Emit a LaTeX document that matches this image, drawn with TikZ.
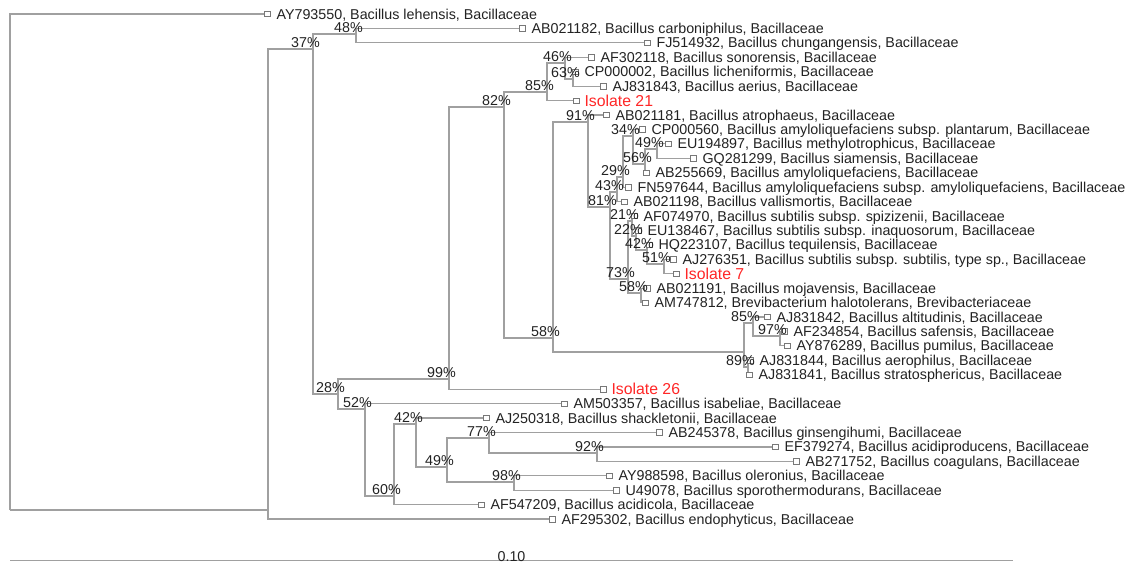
\documentclass[tikz,border=0pt]{standalone}
\usepackage{fontspec}
\setmainfont{Liberation Sans}
\usetikzlibrary{positioning}
\definecolor{treegray}{RGB}{160,160,160}
\definecolor{boxgray}{RGB}{120,120,120}
\definecolor{txtgray}{RGB}{34,34,34}
\definecolor{isored}{RGB}{255,38,38}
\tikzset{
  branch/.style={draw=treegray,line width=1.2pt},
  tip/.style={draw=boxgray,fill=white,line width=0.6pt,minimum size=5.5pt,inner sep=0pt},
  taxon/.style={font=\fontsize{14.3}{16}\selectfont,text=txtgray,inner sep=0pt,anchor=base west},
  isolate/.style={taxon,font=\fontsize{15.8}{18}\selectfont,text=isored},
  boot/.style={font=\fontsize{14.3}{16}\selectfont,text=txtgray,inner sep=0pt,anchor=base east},
}
\begin{document}
\begin{tikzpicture}[x=1pt,y=-1pt]
\useasboundingbox (0,0) rectangle (1131,562);
% inner nodes, placed where their own branch comes in
\foreach \n/\x/\y in {root/10/510, nA/268/510, n37/313/49, n48/356/34, n28/338/394,
    n99/449/379, n82/504/107, n85/547/92, n46/565/63, n63/573/79, n58/553/338,
    n91/588/122, n81/610/207, n43/617/192, n29/623/177, n34/633/136, n56/645/164,
    n49/657/149, n73/628/279, n21/632/221, n22/636/236, n42/647/250, n51/664/264,
    n58b/641/293, npum/744/352, n85b/753/323, n97/780/336, n89/748/367,
    n52/365/409, n60/394/496, n42b/416/424, n49b/447/467, n77/489/438,
    n92/597/453, n98/514/482}
  \coordinate (\n) at (\x,\y);
\foreach \p/\c in {root/nA, nA/n37, n37/n48, n37/n28, n28/n99, n28/n52, n99/n82,
    n82/n85, n82/n58, n85/n46, n46/n63, n58/n91, n58/npum, n91/n81, n81/n43,
    n81/n73, n43/n29, n29/n34, n34/n56, n56/n49, n73/n21, n73/n58b, n21/n22,
    n22/n42, n42/n51, npum/n85b, npum/n89, n85b/n97, n52/n60, n60/n42b,
    n42b/n49b, n49b/n77, n49b/n98, n77/n92}
  \draw[branch] (\p) |- (\c);
% tips
\foreach \i/\p/\x/\txt in {
    1/root/267/{AY793550, Bacillus lehensis, Bacillaceae},
    2/n48/522/{AB021182, Bacillus carboniphilus, Bacillaceae},
    3/n48/647/{FJ514932, Bacillus chungangensis, Bacillaceae},
    4/n46/591/{AF302118, Bacillus sonorensis, Bacillaceae},
    5/n63/575/{CP000002, Bacillus licheniformis, Bacillaceae},
    6/n63/603/{AJ831843, Bacillus aerius, Bacillaceae},
    8/n91/606/{AB021181, Bacillus atrophaeus, Bacillaceae},
    9/n34/642/{CP000560, Bacillus amyloliquefaciens subsp. plantarum, Bacillaceae},
    10/n49/668/{EU194897, Bacillus methylotrophicus, Bacillaceae},
    11/n49/693/{GQ281299, Bacillus siamensis, Bacillaceae},
    12/n56/646/{AB255669, Bacillus amyloliquefaciens, Bacillaceae},
    13/n29/628/{FN597644, Bacillus amyloliquefaciens subsp. amyloliquefaciens, Bacillaceae},
    14/n43/624/{AB021198, Bacillus vallismortis, Bacillaceae},
    15/n21/634/{AF074970, Bacillus subtilis subsp. spizizenii, Bacillaceae},
    16/n22/638/{EU138467, Bacillus subtilis subsp. inaquosorum, Bacillaceae},
    17/n42/649/{HQ223107, Bacillus tequilensis, Bacillaceae},
    18/n51/673/{AJ276351, Bacillus subtilis subsp. subtilis, type sp., Bacillaceae},
    20/n58b/647/{AB021191, Bacillus mojavensis, Bacillaceae},
    21/n58b/645/{AM747812, Brevibacterium halotolerans, Brevibacteriaceae},
    22/n85b/767/{AJ831842, Bacillus altitudinis, Bacillaceae},
    23/n97/784/{AF234854, Bacillus safensis, Bacillaceae},
    24/n97/787/{AY876289, Bacillus pumilus, Bacillaceae},
    25/n89/750/{AJ831844, Bacillus aerophilus, Bacillaceae},
    26/n89/749/{AJ831841, Bacillus stratosphericus, Bacillaceae},
    28/n52/564/{AM503357, Bacillus isabeliae, Bacillaceae},
    29/n42b/486/{AJ250318, Bacillus shackletonii, Bacillaceae},
    30/n77/659/{AB245378, Bacillus ginsengihumi, Bacillaceae},
    31/n92/775/{EF379274, Bacillus acidiproducens, Bacillaceae},
    32/n92/796/{AB271752, Bacillus coagulans, Bacillaceae},
    33/n98/609/{AY988598, Bacillus oleronius, Bacillaceae},
    34/n98/616/{U49078, Bacillus sporothermodurans, Bacillaceae},
    35/n60/481/{AF547209, Bacillus acidicola, Bacillaceae},
    36/nA/552/{AF295302, Bacillus endophyticus, Bacillaceae}}{
  \pgfmathsetmacro\yy{14+14.43*(\i-1)}
  \draw[branch] (\p) |- (\x-2.75,\yy) node[tip,anchor=west] (t\i) {};
  \node[taxon] (l\i) at ([xshift=6pt,yshift=-5pt]t\i.east) {\txt};
}
% the three isolates
\foreach \i/\p/\x/\txt in {7/n85/576/{Isolate 21}, 19/n51/676/{Isolate 7}, 27/n99/603/{Isolate 26}}{
  \pgfmathsetmacro\yy{14+14.43*(\i-1)}
  \draw[branch] (\p) |- (\x-2.75,\yy) node[tip,anchor=west] (t\i) {};
  \node[isolate] (l\i) at ([xshift=5pt,yshift=-5.6pt]t\i.east) {\txt};
}
% bootstrap values
\foreach \n/\v in {n48/48, n37/37, n46/46, n63/63, n85/85, n82/82, n91/91, n34/34,
    n49/49, n56/56, n29/29, n43/43, n81/81, n21/21, n22/22, n42/42, n51/51, n73/73,
    n58b/58, n58/58, n85b/85, n97/97, n89/89, n99/99, n28/28, n52/52, n42b/42,
    n77/77, n92/92, n49b/49, n98/98, n60/60}
  \node[boot] (b\n) at ([xshift=7pt,yshift=1.5pt]\n) {\v\%};
% scale bar
\coordinate (sbl) at (10,560.5);
\coordinate (sbr) at (1013,560.5);
\draw[branch] (sbl) -- (sbr) node[boot,anchor=base,pos=0.5,yshift=-0.5pt] (sbt) {0.10};
\end{tikzpicture}
\end{document}
